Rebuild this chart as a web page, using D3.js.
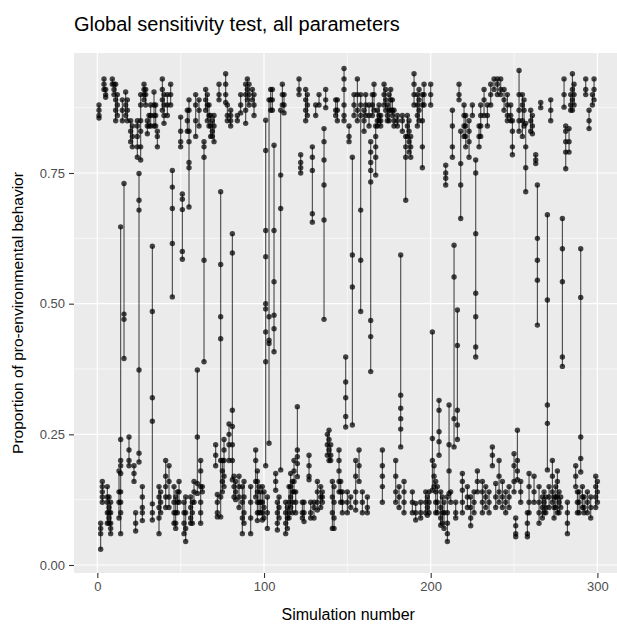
<!DOCTYPE html>
<html>
<head>
<style>
  html, body { margin: 0; padding: 0; background: #fff; }
  svg { display: block; font-family: "Liberation Sans", Arial, sans-serif; }
</style>
</head>
<body>
<svg width="617" height="624"></svg>
<script src="https://cdnjs.cloudflare.com/ajax/libs/d3/7.8.5/d3.min.js"></script>
<script>
// proportion of pro-environmental behaviour for each run, one list per simulation
const runs001to100 = [
  [.88,.87,.86,.855],[.08,.07,.06,.03],[.16,.15,.14,.13,.12],[.93,.92,.91],[.91,.9,.895],
  [.15,.13,.12,.1,.08],[.13,.11,.1,.09,.08],[.12,.1,.08,.07,.06],[.93,.92],[.92,.91,.9],
  [.92,.89,.87,.85],[.9,.88,.86],[.18,.14,.12,.09],[.647,.24,.2,.19,.175,.14,.12,.1,.06],[.89,.87,.85],
  [.73,.48,.47,.395],[.905,.88,.86],[.89,.87,.85],[.245,.22,.2,.19],[.85,.83,.81],
  [.84,.82,.8],[.19,.175,.16],[.1,.08,.065],[.85,.84,.82,.8,.78],[.749,.698,.679,.373,.214,.197],
  [.9,.88,.85,.83,.8,.775],[.15,.13,.11,.1,.085],[.92,.91,.9,.89],[.91,.9,.88],[.85,.84,.825],
  [.86,.84],[.88,.86,.84],[.61,.485,.32,.275,.117,.1,.086],[.905,.88,.86,.84],[.88,.86,.84],
  [.83,.82,.8],[.15,.13,.11,.09,.06],[.14,.12,.1],[.93,.91,.89,.87],[.9,.88,.86,.845],
  [.2,.17,.15,.13,.11],[.9,.88,.86],[.19,.16,.13,.11],[.92,.9,.88],[.755,.723,.682,.615,.513],
  [.15,.12,.1,.08],[.13,.1,.08,.07],[.14,.12,.1],[.16,.14,.12],[.857,.83,.81,.8],
  [.71,.7,.68,.6,.585],[.12,.1,.08,.06],[.13,.1,.07,.045],[.87,.85,.83],[.89,.87,.83,.81,.77,.76,.685],
  [.13,.11,.09,.08],[.12,.1,.08],[.16,.14,.12],[.9,.88,.85,.82],[.373,.245,.156,.137],
  [.89,.87,.84],[.2,.18,.15,.12,.1,.08],[.15,.14],[.81,.8,.78,.583,.389],[.91,.89,.87],
  [.9,.88,.85],[.88,.86,.84],[.86,.84,.82],[.85,.83,.82],[.86,.84,.81],
  [.23,.21,.19],[.135,.12,.1,.092],[.92,.9,.89],[.714,.575,.475,.433,.2,.13,.092],[.2,.18,.16,.14],
  [.24,.22,.2,.17,.15],[.94,.92,.9,.885],[.88,.86,.85],[.27,.25,.23,.2],[.87,.86,.85,.84],
  [.634,.597,.296,.265,.23,.2,.163],[.17,.15,.13],[.16,.14,.125],[.86,.85],[.17,.15,.13,.11],
  [.9,.88,.865],[.15,.12,.09,.06],[.16,.13,.1,.08],[.92,.9,.87,.845],[.93,.91,.89],
  [.92,.9,.88],[.15,.12,.09,.06],[.91,.89],[.9,.88,.86],[.22,.2,.16,.13],
  [.18,.16,.14,.12,.1,.085],[.15,.12,.1],[.14,.12,.1],[.15,.12,.1,.086],[.14,.11,.09]
];
const runs101to200 = [
  [.851,.793,.64,.59,.5,.49,.446,.389,.19],[.13,.1,.07],[.89,.475,.43,.424,.233],[.91,.89,.87],[.91,.89,.87],
  [.803,.64,.542,.478,.452,.408],[.175,.16,.143],[.12,.1,.08,.067],[.13,.11,.09],[.87,.746,.682,.182],
  [.92,.9,.88],[.9,.88,.865],[.12,.1,.08,.06],[.11,.09,.07],[.15,.12,.1,.09],
  [.175,.15,.13,.11],[.16,.14,.12,.1],[.2,.18,.16,.14],[.14,.12,.1],[.303,.22,.207,.194,.169],
  [.93,.91,.9],[.785,.77,.76,.75],[.12,.1,.09],[.12,.1,.083],[.91,.89,.87,.85],
  [.9,.88,.86],[.21,.19,.17,.163],[.12,.1,.09],[.8,.78,.755,.672,.656],[.12,.11,.09],
  [.88,.86],[.16,.14,.12,.105],[.9,.88],[.15,.13,.11],[.14,.13,.12],
  [.835,.81,.775,.727,.66,.47],[.91,.89,.875],[.25,.23,.21],[.258,.24,.22,.2],[.23,.21,.2],
  [.16,.13,.1,.07],[.15,.12,.09,.07],[.89,.87,.86],[.89,.87,.85],[.22,.2,.18,.16,.14],
  [.16,.14,.12],[.14,.12,.1],[.95,.93,.91,.88,.86,.85],[.398,.35,.32,.284,.264],[.14,.12,.1],
  [.84,.82,.81],[.13,.11],[.78,.593,.532,.268],[.9,.88,.86],[.2,.17,.14,.12,.105],
  [.93,.9,.87,.85],[.22,.19,.16],[.9,.88,.86,.679,.583,.485],[.14,.12,.1],[.87,.85,.83],
  [.9,.88,.86],[.13,.11,.1],[.88,.86,.84],[.81,.79,.77,.755,.733,.468,.437,.37],[.9,.88,.86],
  [.92,.9,.87],[.84,.82,.8,.78,.746],[.87,.85,.84],[.88,.86,.85],[.86,.85,.84],
  [.22,.19,.17,.15,.12],[.92,.9,.88],[.91,.89,.87],[.88,.86,.85],[.9,.87,.85],
  [.91,.89,.87],[.89,.87,.86],[.87,.85,.84],[.2,.17,.14,.12],[.86,.85,.84],
  [.15,.13,.11],[.593,.325,.3,.28,.26,.226],[.86,.85,.83],[.16,.14,.12,.1],[.82,.8,.78,.698],
  [.86,.84,.82],[.85,.83,.81,.79],[.82,.8,.78],[.14,.12,.1],[.94,.92,.9,.88],
  [.118,.1,.086],[.9,.88,.86,.84],[.91,.89,.87,.85],[.12,.1,.09],[.9,.88,.85,.8,.76],
  [.92,.9,.88],[.14,.12,.1],[.13,.11,.095],[.14,.12,.1],[.92,.9,.88]
];
const runs201to300 = [
  [.446,.242,.2,.143],[.19,.17,.15],[.16,.14,.12,.1],[.15,.12,.1],[.315,.296,.255,.236,.21],
  [.14,.11,.09,.076],[.13,.1,.08],[.12,.1,.07],[.765,.75,.74,.727],[.13,.1,.08,.06,.045],
  [.306,.23,.18,.137],[.14,.12],[.87,.84,.8,.78],[.612,.551,.28,.226],[.12,.1,.09],
  [.488,.42,.296,.268,.24],[.92,.9,.89],[.83,.768,.727,.663],[.175,.16,.143,.12,.1],[.88,.86,.84,.82],
  [.86,.84,.82,.8],[.15,.13,.11],[.85,.83,.81,.78],[.13,.11,.09,.075],[.88,.86],
  [.14,.12,.1],[.775,.75,.634,.52,.475,.417,.398],[.18,.16,.14],[.84,.82,.8],[.88,.86,.84,.82],
  [.16,.14,.12,.1],[.91,.89,.86],[.15,.13,.11],[.88,.86,.84],[.14,.12,.1],
  [.92,.9,.88],[.226,.21,.19],[.93,.91],[.156,.13,.11],[.93,.92,.9],
  [.2,.17,.14,.12],[.93,.91,.9],[.16,.13,.11],[.91,.89,.87],[.14,.12,.1],
  [.9,.88,.86,.85],[.15,.13,.11],[.88,.86,.85],[.85,.83,.8,.785],[.213,.19,.16,.14],
  [.09,.075,.06,.054],[.258,.2,.18,.163],[.946,.9,.87,.85,.83],[.16,.14,.12],[.9,.88,.85,.82],
  [.89,.87,.84],[.845,.8,.76,.714],[.1,.08,.06,.054],[.175,.15,.12,.1],[.87,.85,.83],
  [.86,.84,.825],[.17,.14,.12],[.785,.775,.768],[.727,.625,.583,.545,.459],[.15,.12,.1,.08],
  [.885,.875],[.13,.11,.09],[.14,.12,.1],[.13,.11,.1],[.67,.507,.306,.271,.182],
  [.15,.13,.11],[.89,.87,.85],[.2,.17,.14,.12],[.13,.11,.09],[.15,.13,.11],
  [.18,.16,.13,.1],[.14,.12,.1],[.13,.11],[.663,.605,.542,.398,.38],[.93,.9,.876],
  [.84,.83,.81,.79,.758],[.12,.1,.08,.06],[.835,.81,.79],[.9,.88,.87],[.94,.91,.89,.87],
  [.92,.9,.88],[.19,.17,.15],[.14,.12,.1],[.14,.12,.1],[.605,.512,.245,.204,.178],
  [.15,.13,.11],[.13,.11,.1],[.93,.91,.9],[.14,.12,.1],[.87,.85,.835],
  [.13,.11,.09],[.9,.88],[.93,.91,.89],[.17,.15,.13,.11],[.16,.14,.12]
];
const xTicks = [0, 100, 200, 300];
const xMinor = [50, 150, 250];
const yTicks = [0, 0.25, 0.5, 0.75];
const yMinor = [0.125, 0.375, 0.625, 0.875];

const sims = runs001to100.concat(runs101to200, runs201to300)
  .map((vals, i) => ({sim: i + 1, vals: vals}));

const panel = {left: 74, right: 622.4, top: 53, bottom: 573};
const svg = d3.select("svg");

const x = d3.scaleLinear().domain([-14, 315]).range([panel.left, panel.right]);
const y = d3.scaleLinear().domain([-0.0153, 0.9796]).range([panel.bottom, panel.top]);

svg.append("rect")
  .attr("x", panel.left).attr("y", panel.top)
  .attr("width", panel.right - panel.left).attr("height", panel.bottom - panel.top)
  .attr("fill", "#ebebeb");

// grid
const grid = svg.append("g").attr("stroke", "#fff");
grid.selectAll(".ymin").data(yMinor).enter().append("line")
  .attr("x1", panel.left).attr("x2", panel.right)
  .attr("y1", d => y(d)).attr("y2", d => y(d)).attr("stroke-width", 0.6);
grid.selectAll(".xmin").data(xMinor).enter().append("line")
  .attr("y1", panel.top).attr("y2", panel.bottom)
  .attr("x1", d => x(d)).attr("x2", d => x(d)).attr("stroke-width", 0.6);
grid.selectAll(".ymaj").data(yTicks).enter().append("line")
  .attr("x1", panel.left).attr("x2", panel.right)
  .attr("y1", d => y(d)).attr("y2", d => y(d)).attr("stroke-width", 1.2);
grid.selectAll(".xmaj").data(xTicks).enter().append("line")
  .attr("y1", panel.top).attr("y2", panel.bottom)
  .attr("x1", d => x(d)).attr("x2", d => x(d)).attr("stroke-width", 1.2);

// range lines, one per simulation
svg.append("g").selectAll("line")
  .data(sims.filter(d => d.vals.length > 1))
  .enter().append("line")
  .attr("x1", d => x(d.sim)).attr("x2", d => x(d.sim))
  .attr("y1", d => y(d3.max(d.vals))).attr("y2", d => y(d3.min(d.vals)))
  .attr("stroke", "#000").attr("stroke-opacity", 0.7).attr("stroke-width", 1.1);

// points
const pts = sims.flatMap(d => d.vals.map(v => ({sim: d.sim, v: v})));
svg.append("g").selectAll("circle")
  .data(pts).enter().append("circle")
  .attr("cx", d => x(d.sim)).attr("cy", d => y(d.v)).attr("r", 2.7)
  .attr("fill", "#000").attr("fill-opacity", 0.72);

// axes
const xAxis = d3.axisBottom(x).tickValues(xTicks).tickSize(5).tickPadding(4);
const yAxis = d3.axisLeft(y).tickValues(yTicks).tickSize(5).tickPadding(4).tickFormat(d3.format(".2f"));

const gx = svg.append("g").attr("transform", "translate(0," + panel.bottom + ")").call(xAxis);
const gy = svg.append("g").attr("transform", "translate(" + panel.left + ",0)").call(yAxis);
[gx, gy].forEach(g => {
  g.select(".domain").remove();
  g.selectAll(".tick line").attr("stroke", "#333").attr("stroke-width", 1.1);
  g.selectAll(".tick text").attr("fill", "#4d4d4d").style("font-size", "13px")
    .style("font-family", "'Liberation Sans', Arial, sans-serif");
});

svg.append("text")
  .attr("x", (panel.left + panel.right) / 2).attr("y", 620)
  .attr("text-anchor", "middle").attr("font-size", 16).attr("fill", "#000")
  .text("Simulation number");

svg.append("text")
  .attr("transform", "translate(23," + (panel.top + panel.bottom) / 2 + ") rotate(-90)")
  .attr("text-anchor", "middle").attr("font-size", 15.5).attr("fill", "#000")
  .text("Proportion of pro-environmental behavior");

svg.append("text")
  .attr("x", 74).attr("y", 31)
  .attr("font-size", 20).attr("fill", "#000")
  .text("Global sensitivity test, all parameters");
</script>
</body>
</html>
